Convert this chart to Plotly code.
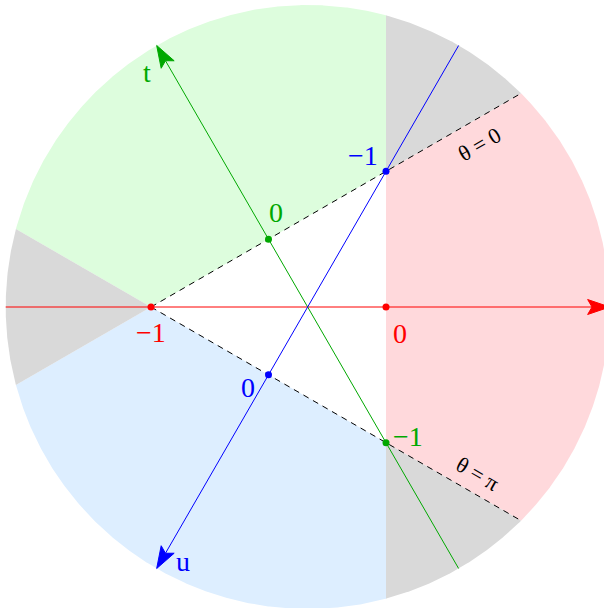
import numpy as np
import plotly.graph_objects as go

# ---------------- data ----------------
# Mandelstam plane with s + t + u = -1 (units of the mass scale)
mandelstam_sum = -1.0
radius = 1.285                      # radius of the drawn disc (plane units)
s_tick_values = [-1, 0]
s_tick_labels = ["−1", "0"]
t_tick_values = [0, -1]
t_tick_labels = ["0", "−1"]
u_tick_values = [-1, 0]
u_tick_labels = ["−1", "0"]
axis_names = ["s", "t", "u"]
boundary_labels = ["θ = 0", "θ = π"]

# ---------------- styles ----------------
RED, GREEN, BLUE = "#ff0000", "#00a800", "#0000ff"
FILL_RED, FILL_GREEN, FILL_BLUE, FILL_GRAY = "#ffd9dc", "#ddfddd", "#ddeeff", "#d9d9d9"
FONT = "Liberation Serif"
SQ3 = np.sqrt(3.0)
SCALE = 235.0                 # px per plane unit
X0PX, Y0PX = 386.0, 307.0     # pixel position of s=0 on the s axis
HEAD_LEN, HEAD_W, HEAD_NOTCH = 22.0, 15.0, 0.8   # arrow-head size in px

# plane coordinates: x = s, y = (t-u)/sqrt(3)
def to_plane(s, t, u):
    return s, (t - u) / SQ3

def stu(x, y):
    s = x
    t = (mandelstam_sum - x + SQ3 * y) / 2
    u = (mandelstam_sum - x - SQ3 * y) / 2
    return s, t, u

center = np.array([mandelstam_sum / 3, 0.0])

ang = np.linspace(0, 2 * np.pi, 1441)[:-1]
circle = np.column_stack([center[0] + radius * np.cos(ang), center[1] + radius * np.sin(ang)])

def clip(poly, f):
    out = []
    n = len(poly)
    for i in range(n):
        P, Q = poly[i], poly[(i + 1) % n]
        fp, fq = f(*P), f(*Q)
        if fp >= 0:
            out.append(P)
        if fp * fq < 0:
            out.append(P + (Q - P) * fp / (fp - fq))
    return np.array(out)

def region(conds):
    poly = circle
    for c in conds:
        poly = clip(poly, c)
    return poly

S = lambda x, y: stu(x, y)[0]
T = lambda x, y: stu(x, y)[1]
U = lambda x, y: stu(x, y)[2]
neg = lambda f: (lambda x, y: -f(x, y))

regions = [
    (region([S, neg(T), neg(U)]), FILL_RED),
    (region([T, neg(S), neg(U)]), FILL_GREEN),
    (region([U, neg(S), neg(T)]), FILL_BLUE),
    (region([S, T]), FILL_GRAY),
    (region([S, U]), FILL_GRAY),
    (region([T, U]), FILL_GRAY),
]

fig = go.Figure()
for poly, col in regions:
    fig.add_trace(go.Scatter(x=poly[:, 0], y=poly[:, 1], mode="lines", fill="toself",
                             fillcolor=col, line=dict(width=0, color=col),
                             hoverinfo="skip", showlegend=False))

# dashed boundaries t=0 and u=0 from vertex A into s>0 region
A = np.array(to_plane(mandelstam_sum, 0.0, 0.0))
def ray_to_circle(p, d):
    d = d / np.linalg.norm(d)
    w = p - center
    b = np.dot(w, d)
    c = np.dot(w, w) - radius ** 2
    m = -b + np.sqrt(b * b - c)
    return p + m * d
for dirv in [np.array([SQ3 / 2, 0.5]), np.array([SQ3 / 2, -0.5])]:
    E = ray_to_circle(A, dirv)
    fig.add_trace(go.Scatter(x=[A[0], E[0]], y=[A[1], E[1]], mode="lines",
                             line=dict(color="black", width=1, dash="6px,5px"),
                             hoverinfo="skip", showlegend=False))

# axes through the disc centre, from circle to circle, with filled heads
dir_s = np.array([1.0, 0.0])
dir_t = np.array([-0.5, SQ3 / 2])
dir_u = np.array([-0.5, -SQ3 / 2])

def axis_arrow(d, color):
    tail = center - radius * d
    tip = center + radius * d
    L, W = HEAD_LEN / SCALE, HEAD_W / SCALE
    n = np.array([-d[1], d[0]])
    back = tip - L * d
    notch = tip - HEAD_NOTCH * L * d
    fig.add_trace(go.Scatter(x=[tail[0], notch[0]], y=[tail[1], notch[1]], mode="lines",
                             line=dict(color=color, width=1), hoverinfo="skip", showlegend=False))
    head = np.array([tip, back + W / 2 * n, notch, back - W / 2 * n, tip])
    fig.add_trace(go.Scatter(x=head[:, 0], y=head[:, 1], mode="lines", fill="toself",
                             fillcolor=color, line=dict(color=color, width=1),
                             hoverinfo="skip", showlegend=False))
    return tip

s_tip = axis_arrow(dir_s, RED)
t_tip = axis_arrow(dir_t, GREEN)
u_tip = axis_arrow(dir_u, BLUE)

XMIN, XMAX = (0 - X0PX) / SCALE, (604 - X0PX) / SCALE
YMAX, YMIN = (Y0PX - 0) / SCALE, (Y0PX - 608) / SCALE

annotations = []
def lab(x, y, text, color, dx, dy, size=28, angle=0):
    annotations.append(dict(x=x, y=y, xref="x", yref="y", text=text, showarrow=False,
                            xshift=dx, yshift=dy, textangle=angle,
                            font=dict(family=FONT, size=size, color=color)))

lab(s_tip[0], s_tip[1], axis_names[0], RED, -17, 25)
lab(t_tip[0], t_tip[1], axis_names[1], GREEN, -10, -27)
lab(u_tip[0], u_tip[1], axis_names[2], BLUE, 26, 7)

# tick points
pts_s = [to_plane(v, (mandelstam_sum - v) / 2, (mandelstam_sum - v) / 2) for v in s_tick_values]
pts_t = [to_plane((mandelstam_sum - v) / 2, v, (mandelstam_sum - v) / 2) for v in t_tick_values]
pts_u = [to_plane((mandelstam_sum - v) / 2, (mandelstam_sum - v) / 2, v) for v in u_tick_values]
for pts, col in [(pts_s, RED), (pts_t, GREEN), (pts_u, BLUE)]:
    fig.add_trace(go.Scatter(x=[p[0] for p in pts], y=[p[1] for p in pts], mode="markers",
                             marker=dict(color=col, size=7), hoverinfo="skip", showlegend=False))

s_offsets = [(0, -25), (14, -26)]
t_offsets = [(7, 27), (22, 6)]
u_offsets = [(-23, 16), (-21, -13)]
for pts, labels, offs, col in [(pts_s, s_tick_labels, s_offsets, RED),
                               (pts_t, t_tick_labels, t_offsets, GREEN),
                               (pts_u, u_tick_labels, u_offsets, BLUE)]:
    for p, txt, (dx, dy) in zip(pts, labels, offs):
        lab(p[0], p[1], txt, col, dx, dy)

# boundary labels
B = np.array(to_plane(0.0, 0.0, -1.0))
C = np.array(to_plane(0.0, -1.0, 0.0))
lab(B[0], B[1], boundary_labels[0], "black", 93, 27, size=22, angle=-30)
lab(C[0], C[1], boundary_labels[1], "black", 91, -31, size=22, angle=30)

fig.update_layout(
    width=604, height=608, margin=dict(l=0, r=0, t=0, b=0),
    plot_bgcolor="white", paper_bgcolor="white",
    xaxis=dict(range=[XMIN, XMAX], visible=False, showgrid=False, zeroline=False),
    yaxis=dict(range=[YMIN, YMAX], visible=False, showgrid=False, zeroline=False),
    annotations=annotations, showlegend=False,
)
fig.write_html("out.html", config={"displayModeBar": False, "staticPlot": True},
               post_script="document.body.style.margin='0px';document.body.style.overflow='hidden';")
